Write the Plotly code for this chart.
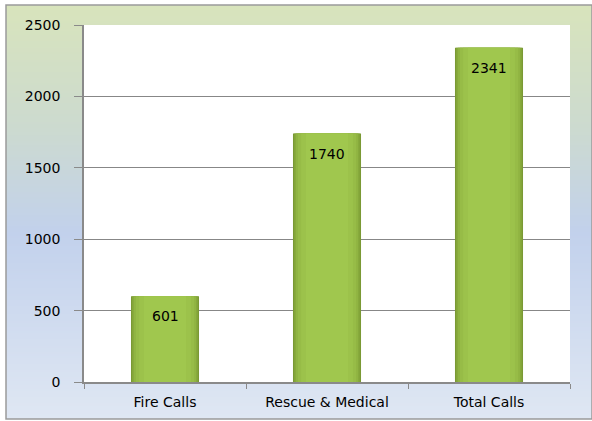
import base64, struct, zlib
import plotly.graph_objects as go

categories = ["Fire Calls", "Rescue & Medical", "Total Calls"]
values = [601, 1740, 2341]
y_ticks = [0, 500, 1000, 1500, 2000, 2500]


def gradient_png(stops, height):
    rows = b""
    for i in range(height):
        t = i / (height - 1)
        for j in range(len(stops) - 1):
            t0, c0 = stops[j]
            t1, c1 = stops[j + 1]
            if t0 <= t <= t1:
                f = (t - t0) / (t1 - t0) if t1 > t0 else 0
                c = [round(c0[k] + (c1[k] - c0[k]) * f) for k in range(3)]
                break
        rows += b"\x00" + bytes(c)

    def chunk(tag, data):
        return struct.pack(">I", len(data)) + tag + data + struct.pack(">I", zlib.crc32(tag + data) & 0xFFFFFFFF)

    png = b"\x89PNG\r\n\x1a\n"
    png += chunk(b"IHDR", struct.pack(">IIBBBBB", 1, height, 8, 2, 0, 0, 0))
    png += chunk(b"IDAT", zlib.compress(rows))
    png += chunk(b"IEND", b"")
    return "data:image/png;base64," + base64.b64encode(png).decode()


bg = gradient_png([
    (0.0, (216, 228, 188)),
    (0.30, (204, 218, 208)),
    (0.55, (194, 209, 236)),
    (1.0, (223, 231, 243)),
], 200)

W, H = 592, 421
L, R, T, B = 84, 22, 25, 39
pw, ph = W - L - R, H - T - B
ox0, ox1, oy0, oy1 = 6, 592, 5, 419
px = lambda x: (x - L) / pw
py = lambda y: (H - B - y) / ph

fig = go.Figure()
layers = [
    (0.42, "#7a9934"),
    (0.405, "#86a83b"),
    (0.385, "#90b442"),
    (0.36, "#97bc47"),
    (0.32, "#9cc24b"),
    (0.26, "#a0c74e"),
]
for w, col in layers:
    fig.add_trace(go.Bar(
        x=categories, y=values, width=w,
        marker=dict(color=col, line=dict(width=0)),
        textposition="none",
        hoverinfo="skip", showlegend=False,
    ))

annotations = [
    dict(x=c, y=v, text=str(v), showarrow=False, xref="x", yref="y",
         yanchor="middle", yshift=-20, font=dict(color="black", size=14))
    for c, v in zip(categories, values)
]

fig.update_layout(
    width=W, height=H,
    margin=dict(l=L, r=R, t=T, b=B),
    barmode="overlay",
    paper_bgcolor="white",
    plot_bgcolor="white",
    font=dict(family="DejaVu Sans", size=14, color="black"),
    annotations=annotations,
    images=[dict(source=bg, xref="paper", yref="paper",
                 x=px(ox0), y=py(oy0), sizex=px(ox1) - px(ox0), sizey=py(oy0) - py(oy1),
                 xanchor="left", yanchor="top", sizing="stretch", layer="below")],
    shapes=[
        dict(type="rect", xref="paper", yref="paper", x0=0, x1=1, y0=0, y1=1,
             fillcolor="white", line=dict(width=0), layer="below"),
        dict(type="rect", xref="paper", yref="paper", x0=px(ox0), x1=px(ox1), y0=py(oy1), y1=py(oy0),
             line=dict(color="#9a9a9a", width=1.5), fillcolor="rgba(0,0,0,0)", layer="above"),
    ],
    xaxis=dict(
        showline=True, linecolor="#8a8a8a", linewidth=1.5,
        ticks="outside", tickson="boundaries", ticklen=5, tickcolor="#8a8a8a",
        showgrid=False, tickfont=dict(size=14), ticklabelstandoff=6,
    ),
    yaxis=dict(
        range=[0, 2500], tickvals=y_ticks, ticktext=[str(v) for v in y_ticks],
        showline=True, linecolor="#8a8a8a", linewidth=1.5,
        ticks="outside", ticklen=8, tickcolor="#8a8a8a",
        showgrid=True, gridcolor="#878787", gridwidth=1,
        zeroline=False, tickfont=dict(size=14), ticklabelstandoff=11,
    ),
)

fig.write_html(
    "out.html",
    config={"displayModeBar": False},
    post_script="document.body.style.margin='0';document.body.style.overflow='hidden';",
)
